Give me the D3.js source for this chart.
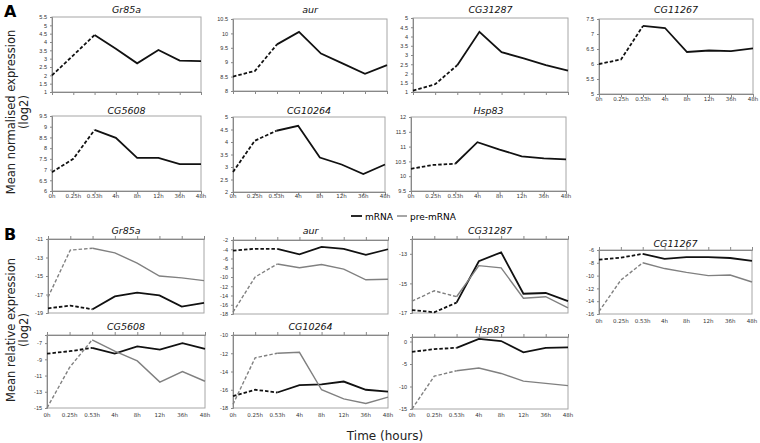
<!DOCTYPE html>
<meta charset="utf-8">
<body style="margin:0;background:#fff">
<script src="https://cdn.jsdelivr.net/npm/d3@7/dist/d3.min.js"></script>
<svg></svg>
<script>
// time points (x categories)
var times = ["0h", "0.25h", "0.53h", "4h", "8h", "12h", "36h", "48h"];

// A: mean normalised expression (log2)
var aGr85a   = [2.0, 3.2, 4.42, 3.6, 2.72, 3.52, 2.88, 2.85];
var aAur     = [8.5, 8.7, 9.62, 10.05, 9.3, 8.95, 8.6, 8.9];
var aCG31287 = [1.08, 1.42, 2.45, 4.25, 3.15, 2.82, 2.45, 2.15];
var aCG11267 = [6.0, 6.15, 7.27, 7.2, 6.4, 6.45, 6.43, 6.52];
var aCG5608  = [6.88, 7.5, 8.85, 8.48, 7.55, 7.55, 7.25, 7.25];
var aCG10264 = [2.8, 4.05, 4.45, 4.65, 3.38, 3.1, 2.72, 3.1];
var aHsp83   = [10.25, 10.38, 10.42, 11.15, 10.9, 10.67, 10.6, 10.57];

// B: mean relative expression (log2), mRNA and pre-mRNA
var bGr85aM   = [-18.5, -18.2, -18.6, -17.2, -16.8, -17.1, -18.3, -17.9];
var bGr85aP   = [-17.3, -12.2, -12.0, -12.5, -13.6, -15.0, -15.2, -15.5];
var bAurM     = [-4.3, -3.9, -3.9, -5.1, -3.5, -3.9, -5.2, -4.0];
var bAurP     = [-17.6, -10.0, -7.2, -8.0, -7.3, -8.3, -10.6, -10.5];
var bCG31287M = [-16.8, -16.95, -16.3, -13.5, -12.9, -15.7, -15.65, -16.2];
var bCG31287P = [-16.2, -15.5, -15.9, -13.8, -13.95, -16.0, -15.9, -16.65];
var bCG11267M = [-7.5, -7.2, -6.6, -7.4, -7.1, -7.1, -7.25, -7.7];
var bCG11267P = [-15.6, -10.7, -8.0, -8.9, -9.5, -10.0, -9.9, -11.0];
var bCG5608M  = [-8.3, -8.0, -7.6, -8.3, -7.4, -7.8, -7.0, -7.7];
var bCG5608P  = [-15.0, -10.0, -6.6, -8.0, -9.2, -11.8, -10.5, -11.7];
var bCG10264M = [-16.7, -16.0, -16.3, -15.5, -15.4, -15.1, -16.0, -16.2];
var bCG10264P = [-17.6, -12.5, -12.0, -11.9, -16.0, -17.0, -17.5, -16.8];
var bHsp83M   = [-2.3, -1.7, -1.4, 0.6, 0.1, -2.4, -1.4, -1.3];
var bHsp83P   = [-15.0, -7.7, -6.5, -5.9, -7.1, -8.8, -9.3, -9.8];

var svg = d3.select("svg").attr("width", 760).attr("height", 443)
    .style("font-family", "'DejaVu Sans', Verdana, sans-serif");

var BLACK = "#111", GREY = "#808080";

// panel layout: plot box [x0,x1] [y0,y1], title y, tick-label y (null = none)
var panels = [
  {title: "Gr85a",   dom: [1, 5.5],  step: 0.5, x: [52, 201],  y: [17, 92],   ty: 13,  ly: null, top: false, s: [aGr85a]},
  {title: "aur",     dom: [8, 10.5], step: 0.5, x: [233, 387], y: [19, 91],   ty: 13,  ly: null, top: false, s: [aAur]},
  {title: "CG31287", dom: [1, 5],    step: 0.5, x: [413, 568], y: [18, 92],   ty: 13,  ly: null, top: false, s: [aCG31287]},
  {title: "CG11267", dom: [5, 7.5],  step: 0.5, x: [599, 753], y: [19, 94],   ty: 13,  ly: 101,  top: false, s: [aCG11267]},
  {title: "CG5608",  dom: [6, 9.5],  step: 0.5, x: [52, 201],  y: [116, 191], ty: 114, ly: 198,  top: false, s: [aCG5608]},
  {title: "CG10264", dom: [2, 5],    step: 0.5, x: [233, 385], y: [117, 192], ty: 114, ly: 198,  top: false, s: [aCG10264]},
  {title: "Hsp83",   dom: [9.5, 12], step: 0.5, x: [411, 566], y: [117, 191], ty: 114, ly: 198,  top: false, s: [aHsp83]},

  {title: "Gr85a",   dom: [-19, -11], step: 2, x: [48, 204],  y: [239, 313], ty: 234, ly: null, top: true, s: [bGr85aM, bGr85aP]},
  {title: "aur",     dom: [-18, -2],  step: 2, x: [233, 388], y: [240, 314], ty: 234, ly: null, top: true, s: [bAurM, bAurP]},
  {title: "CG31287", dom: [-17, -12], step: 2, x: [412, 568], y: [239, 313], ty: 234, ly: null, top: true, s: [bCG31287M, bCG31287P]},
  {title: "CG11267", dom: [-16, -6],  step: 2, x: [599, 752], y: [250, 314], ty: 247, ly: 323,  top: true, s: [bCG11267M, bCG11267P]},
  {title: "CG5608",  dom: [-15, -6],  step: 2, x: [47, 205],  y: [335, 408], ty: 330, ly: 417,  top: true, s: [bCG5608M, bCG5608P]},
  {title: "CG10264", dom: [-18, -10], step: 2, x: [233, 388], y: [335, 408], ty: 330, ly: 417,  top: true, s: [bCG10264M, bCG10264P]},
  {title: "Hsp83",   dom: [-15, 1],   step: 5, x: [412, 568], y: [337, 409], ty: 333, ly: 417,  top: true, s: [bHsp83M, bHsp83P]}
];

panels.forEach(function(p) {
  var x = d3.scalePoint().domain(times).range(p.x);
  var y = d3.scaleLinear().domain(p.dom).range([p.y[1], p.y[0]]);
  var g = svg.append("g");

  g.append("rect")
    .attr("x", p.x[0]).attr("y", p.y[0])
    .attr("width", p.x[1] - p.x[0]).attr("height", p.y[1] - p.y[0])
    .attr("fill", "none").attr("stroke", "#a6a6a6").attr("stroke-width", 1);

  // y axis
  var ticks = d3.range(p.dom[0], p.dom[1] + 1e-6, p.step);
  var ya = g.append("g").attr("transform", "translate(" + p.x[0] + ",0)")
    .call(d3.axisLeft(y).tickValues(ticks).tickSize(2).tickPadding(3)
      .tickFormat(function(d) { return String(+d.toFixed(1)); }));
  ya.select(".domain").attr("stroke", "#888");
  ya.selectAll(".tick line").attr("stroke", "#888");
  ya.selectAll("text").attr("font-size", 5.5).attr("fill", "#333");

  // x axis line with category ticks (top when values are negative)
  var xa = g.append("g")
    .attr("transform", "translate(0," + (p.top ? p.y[0] : p.y[1]) + ")")
    .call((p.top ? d3.axisTop(x) : d3.axisBottom(x)).tickSize(3).tickFormat(""));
  xa.select(".domain").attr("stroke", "#888");
  xa.selectAll(".tick line").attr("stroke", "#888");

  if (p.ly !== null) {
    g.selectAll(".xl").data(times).enter().append("text")
      .attr("x", function(d) { return x(d); })
      .attr("y", p.ly)
      .attr("text-anchor", "middle")
      .attr("font-size", 5.5).attr("fill", "#333")
      .text(function(d) { return d; });
  }

  g.append("text")
    .attr("x", (p.x[0] + p.x[1]) / 2).attr("y", p.ty)
    .attr("text-anchor", "middle").attr("font-size", 9.5)
    .attr("font-style", "italic").attr("fill", "#111")
    .text(p.title);

  var line = d3.line()
    .x(function(d) { return x(d.t); })
    .y(function(d) { return y(d.v); });

  p.s.forEach(function(vals, k) {
    var pts = vals.map(function(v, i) { return {t: times[i], v: v}; });
    var col = k === 0 ? BLACK : GREY;
    var w = k === 0 ? 1.8 : 1.4;
    g.append("path").datum(pts.slice(0, 3)).attr("d", line)
      .attr("fill", "none").attr("stroke", col).attr("stroke-width", w)
      .attr("stroke-dasharray", "3.5,2");
    g.append("path").datum(pts.slice(2)).attr("d", line)
      .attr("fill", "none").attr("stroke", col).attr("stroke-width", w)
      .attr("stroke-linejoin", "miter");
  });
});

// panel letters
svg.append("text").attr("x", 4).attr("y", 17).attr("font-size", 16)
  .attr("font-weight", "bold").text("A");
svg.append("text").attr("x", 4).attr("y", 240).attr("font-size", 16)
  .attr("font-weight", "bold").text("B");

// y axis titles
function yTitle(cy, l1) {
  var t = svg.append("text").attr("transform", "translate(0," + cy + ") rotate(-90)")
    .attr("text-anchor", "middle").attr("font-size", 11.5).attr("fill", "#222");
  t.append("tspan").attr("x", 0).attr("y", 15).text(l1);
  t.append("tspan").attr("x", 0).attr("y", 28).text("(log2)");
}
yTitle(112, "Mean normalised expression");
yTitle(330, "Mean relative expression");

// legend
svg.append("line").attr("x1", 351).attr("x2", 362).attr("y1", 216).attr("y2", 216)
  .attr("stroke", BLACK).attr("stroke-width", 1.8);
svg.append("text").attr("x", 365).attr("y", 219.5).attr("font-size", 9).text("mRNA");
svg.append("line").attr("x1", 397).attr("x2", 407).attr("y1", 216).attr("y2", 216)
  .attr("stroke", GREY).attr("stroke-width", 1.4);
svg.append("text").attr("x", 410).attr("y", 219.5).attr("font-size", 9).text("pre-mRNA");

// x axis title
svg.append("text").attr("x", 385).attr("y", 440).attr("text-anchor", "middle")
  .attr("font-size", 12).attr("fill", "#222").text("Time (hours)");
</script>
